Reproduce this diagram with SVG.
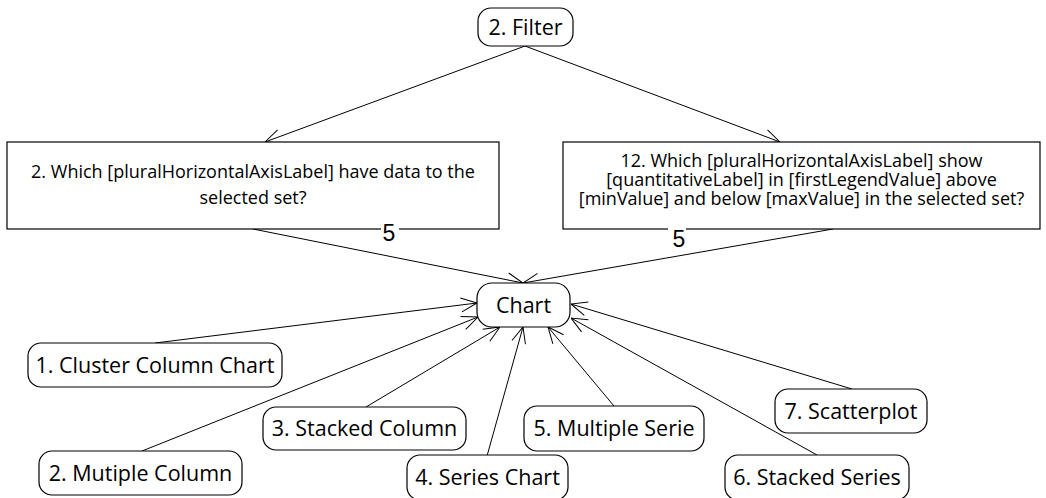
<svg xmlns="http://www.w3.org/2000/svg" width="1046" height="498" viewBox="0 0 1046 498">
<style>
.box{fill:#fff;stroke:#000;stroke-width:1.2}
.t{font-family:"Open Sans","Liberation Sans",sans-serif;fill:#000;text-anchor:middle}
.n{font-size:21.5px}
.q{font-size:18px}
.e{stroke:#000;stroke-width:1;fill:none;marker-end:url(#a)}
.lbl{font-family:"Liberation Sans",Arial,sans-serif;font-size:23px;fill:#000;text-anchor:middle}
</style>
<defs>
<marker id="a" viewBox="0 0 20 20" refX="20" refY="10" markerWidth="20" markerHeight="20" markerUnits="userSpaceOnUse" orient="auto">
<path d="M4,3 L20,10 L4,17" fill="none" stroke="#000" stroke-width="1"/>
</marker>
</defs>
<g id="connectors">
<line class="e" x1="525" y1="46" x2="265" y2="142"/>
<line class="e" x1="525" y1="46" x2="780" y2="142"/>
<line class="e" x1="253" y1="229" x2="523" y2="283"/>
<line class="e" x1="833" y1="229" x2="523" y2="283"/>
<line class="e" x1="155" y1="343" x2="477" y2="303"/>
<line class="e" x1="142" y1="451" x2="478" y2="317"/>
<line class="e" x1="366" y1="407" x2="500" y2="327"/>
<line class="e" x1="487" y1="456" x2="523" y2="327"/>
<line class="e" x1="614" y1="406" x2="548" y2="327"/>
<line class="e" x1="817" y1="455" x2="571" y2="318"/>
<line class="e" x1="852" y1="389" x2="571" y2="304"/>
</g>
<g id="filter">
<rect class="box" x="478" y="8" width="95" height="38" rx="13"/>
<text class="t n" x="525.5" y="35">2. Filter</text>
</g>
<g id="q2">
<rect class="box" x="7" y="142" width="492" height="87"/>
<text class="t q" x="253" y="178">2. Which [pluralHorizontalAxisLabel] have data to the</text>
<text class="t q" x="253" y="204">selected set?</text>
<rect x="381" y="226" width="18" height="8" fill="#fff"/>
<text class="lbl" x="389" y="241">5</text>
</g>
<g id="q12">
<rect class="box" x="563" y="142" width="477" height="87"/>
<text class="t q" x="801.5" y="167">12. Which [pluralHorizontalAxisLabel] show</text>
<text class="t q" x="801.5" y="186">[quantitativeLabel] in [firstLegendValue] above</text>
<text class="t q" x="801.5" y="205">[minValue] and below [maxValue] in the selected set?</text>
<rect x="668" y="226" width="18" height="8" fill="#fff"/>
<text class="lbl" x="679" y="247">5</text>
</g>
<g id="chart">
<rect class="box" x="477" y="283" width="93" height="44" rx="15"/>
<text class="t n" x="523.5" y="313">Chart</text>
</g>
<g id="n1">
<rect class="box" x="28" y="343" width="254" height="44" rx="13"/>
<text class="t n" x="155" y="373">1. Cluster Column Chart</text>
</g>
<g id="n2">
<rect class="box" x="39" y="451" width="203" height="44" rx="13"/>
<text class="t n" x="140.5" y="481">2. Mutiple Column</text>
</g>
<g id="n3">
<rect class="box" x="263" y="407" width="203" height="43" rx="13"/>
<text class="t n" x="364.5" y="436">3. Stacked Column</text>
</g>
<g id="n4">
<rect class="box" x="407" y="455" width="161" height="45" rx="13"/>
<text class="t n" x="487.5" y="485">4. Series Chart</text>
</g>
<g id="n5">
<rect class="box" x="524" y="406" width="180" height="45" rx="13"/>
<text class="t n" x="614" y="436">5. Multiple Serie</text>
</g>
<g id="n6">
<rect class="box" x="725" y="455" width="184" height="45" rx="13"/>
<text class="t n" x="817" y="485">6. Stacked Series</text>
</g>
<g id="n7">
<rect class="box" x="775" y="389" width="152" height="44" rx="13"/>
<text class="t n" x="851" y="419">7. Scatterplot</text>
</g>
</svg>
